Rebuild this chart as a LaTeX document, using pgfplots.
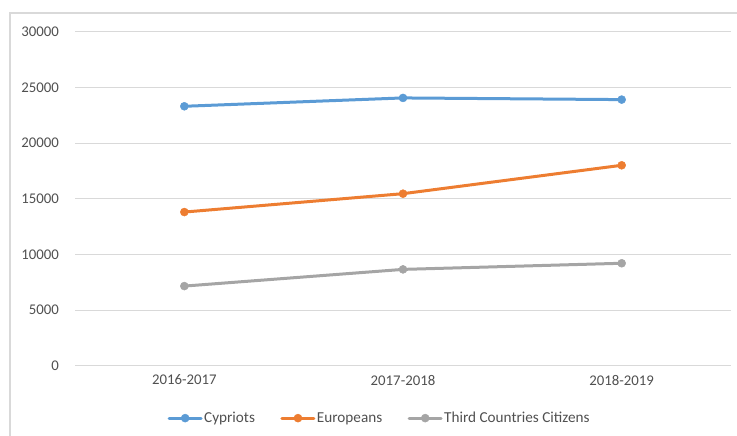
\documentclass[border=0pt]{standalone}
\usepackage{pgfplots}
\pgfplotsset{compat=1.18}
\usepackage{fontspec}
\setmainfont{Carlito}
\definecolor{cblue}{HTML}{5B9BD5}
\definecolor{corange}{HTML}{ED7D31}
\definecolor{cgray}{HTML}{A5A5A5}
\definecolor{gridc}{HTML}{D9D9D9}
\definecolor{txt}{HTML}{505050}
\begin{document}
\begin{tikzpicture}[x=1bp,y=1bp]
\useasboundingbox (0,0) rectangle (737,436);
\draw[gridc, line width=1.2bp] (10,0) -- (10,423) -- (737,423);
\begin{axis}[
  scale only axis, width=656bp, height=334bp,
  at={(75bp,70.3bp)}, anchor=south west,
  xmin=-0.5, xmax=2.5, ymin=0, ymax=30000,
  xtick={0,1,2}, xticklabels={2016-2017,2017-2018,2018-2019},
  ytick={0,5000,10000,15000,20000,25000,30000},
  scaled y ticks=false,
  /pgf/number format/1000 sep={},
  /pgf/number format/assume math mode=true,
  axis line style={draw=none},
  major tick length=0pt,
  ymajorgrids, grid style={gridc, line width=1bp},
  tick label style={font=\fontsize{14.8bp}{17bp}\selectfont, text=txt, inner sep=0pt},
  y tick label style={anchor=east, xshift=-16bp},
  x tick label style={anchor=north, yshift=-9bp},
  clip=false,
  legend columns=3,
  legend style={draw=none, fill=none, at={(0.464,-0.157)}, anchor=center,
    font=\fontsize{15.2bp}{17bp}\selectfont, text=txt,
    nodes={inner sep=1.5bp},
    /tikz/every even column/.append style={column sep=24bp}},
  legend image code/.code={\draw[mark repeat=2,mark phase=2,#1] plot coordinates {(0bp,0bp) (16bp,0bp) (32bp,0bp)};},
  every axis plot/.append style={line width=3bp, line cap=round, line join=round, mark=*, mark size=4bp, mark options={line width=0.5bp}},
]
\addplot[color=cblue] coordinates {(0,23300) (1,24050) (2,23900)};
\addlegendentry{Cypriots}
\addplot[color=corange] coordinates {(0,13800) (1,15450) (2,18000)};
\addlegendentry{Europeans}
\addplot[color=cgray] coordinates {(0,7150) (1,8650) (2,9200)};
\addlegendentry{Third Countries Citizens}
\end{axis}
\end{tikzpicture}
\end{document}
